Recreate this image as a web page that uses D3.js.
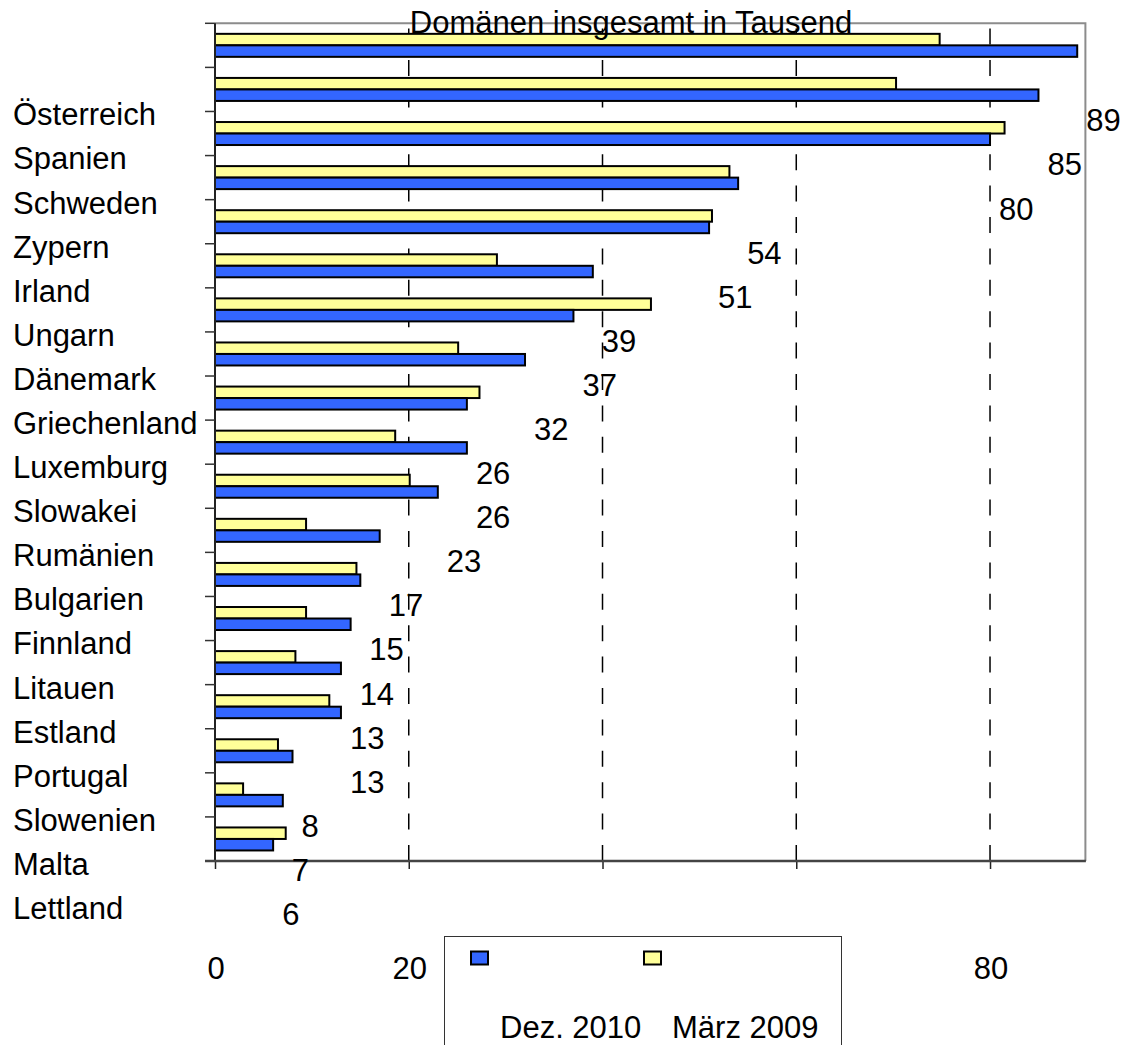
<!DOCTYPE html>
<html>
<head>
<meta charset="utf-8">
<script src="https://cdn.jsdelivr.net/npm/d3@7/dist/d3.min.js"></script>
<style>
  html, body { margin: 0; padding: 0; background: #fff; }
  svg { display: block; }
  text { font-family: "Liberation Sans", Arial, sans-serif; fill: #000; }
</style>
</head>
<body>
<svg id="chart" width="1131" height="1045"></svg>
<script>
// Countries, in the order the bars run from top to bottom
const countries = ["Österreich", "Spanien", "Schweden", "Zypern", "Irland", "Ungarn",
  "Dänemark", "Griechenland", "Luxemburg", "Slowakei", "Rumänien", "Bulgarien",
  "Finnland", "Litauen", "Estland", "Portugal", "Slowenien", "Malta", "Lettland"];

// Domains in thousands, December 2010
const dez2010 = [89, 85, 80, 54, 51, 39, 37, 32, 26, 26, 23, 17, 15, 14, 13, 13, 8, 7, 6];

// Domains in thousands, March 2009
const maerz2009 = [74.8, 70.3, 81.5, 53.1, 51.3, 29.1, 45.0, 25.1, 27.3, 18.6, 20.1,
  9.4, 14.6, 9.4, 8.3, 11.8, 6.5, 2.9, 7.3];

const seriesNames = ["Dez. 2010", "März 2009"];
const gridValues = [20, 40, 60, 80];
const axisTickValues = [0, 20, 40, 60, 80];
const axisLabelValues = [0, 20, 80];
const title = "Domänen insgesamt in Tausend";

const colors = { dez: "#3366FF", maerz: "#FFFF99" };
const fontSize = 31;

const svg = d3.select("#chart");
const plot = { left: 215, right: 1086.9, top: 23.3, bottom: 861 };

const x = d3.scaleLinear().domain([0, 90]).range([plot.left, plot.right]);
const y = d3.scaleBand().domain(countries).range([plot.top, plot.bottom]).padding(0);
const bw = y.bandwidth();
// Two bars per band: March 2009 above, December 2010 below
const sub = d3.scaleBand().domain(["maerz", "dez"]).range([0, bw])
  .paddingInner(0).paddingOuter(0.917);

const rows = countries.map((c, i) => ({ c, dez: dez2010[i], maerz: maerz2009[i] }));

// Dashed vertical gridlines, drawn from the bottom upwards
svg.append("g").selectAll("line").data(gridValues).join("line")
  .attr("x1", d => x(d)).attr("x2", d => x(d))
  .attr("y1", plot.bottom).attr("y2", plot.top)
  .attr("stroke", "#000").attr("stroke-width", 1.5)
  .attr("stroke-dasharray", "16,15.4");

// Plot frame: top and right edges in grey
svg.append("path")
  .attr("d", `M${plot.left},${plot.top}H${x.range()[1] - 1.5}V${plot.bottom}`)
  .attr("fill", "none").attr("stroke", "#8c8c8c").attr("stroke-width", 2);

// Bars
const bars = svg.append("g");
bars.selectAll("rect.maerz").data(rows).join("rect")
  .attr("class", "maerz")
  .attr("x", x(0))
  .attr("y", d => y(d.c) + sub("maerz"))
  .attr("width", d => x(d.maerz) - x(0))
  .attr("height", sub.bandwidth())
  .attr("fill", colors.maerz).attr("stroke", "#000").attr("stroke-width", 2);
bars.selectAll("rect.dez").data(rows).join("rect")
  .attr("class", "dez")
  .attr("x", x(0))
  .attr("y", d => y(d.c) + sub("dez"))
  .attr("width", d => x(d.dez) - x(0))
  .attr("height", sub.bandwidth())
  .attr("fill", colors.dez).attr("stroke", "#000").attr("stroke-width", 2);

// Left axis: spine and ticks on the band boundaries
const yAxis = svg.append("g");
yAxis.append("line")
  .attr("x1", plot.left).attr("x2", plot.left)
  .attr("y1", plot.top).attr("y2", plot.bottom)
  .attr("stroke", "#222").attr("stroke-width", 2);
yAxis.selectAll("line.tick").data(countries).join("line")
  .attr("class", "tick")
  .attr("x1", plot.left - 10).attr("x2", plot.left)
  .attr("y1", d => y(d)).attr("y2", d => y(d))
  .attr("stroke", "#333").attr("stroke-width", 1.5);

// Bottom axis
const xAxis = d3.axisBottom(x).tickValues(axisTickValues).tickSize(8).tickFormat("");
const gx = svg.append("g").attr("transform", `translate(0,${plot.bottom})`).call(xAxis);
gx.select(".domain").remove();
gx.selectAll(".tick line").attr("stroke", "#222").attr("stroke-width", 1.5);
svg.append("line")
  .attr("x1", plot.left - 10).attr("x2", x.range()[1] - 1)
  .attr("y1", plot.bottom).attr("y2", plot.bottom)
  .attr("stroke", "#444").attr("stroke-width", 2.5);

svg.append("g").selectAll("text").data(axisLabelValues).join("text")
  .attr("x", d => x(d) + 1).attr("y", 979)
  .attr("text-anchor", "middle").attr("font-size", fontSize)
  .text(d => d);

// Category labels
svg.append("g").selectAll("text").data(rows).join("text")
  .attr("x", 13)
  .attr("y", d => y(d.c) + bw / 2 + 80)
  .attr("font-size", fontSize)
  .text(d => d.c);

// Value labels for December 2010
svg.append("g").selectAll("text").data(rows).join("text")
  .attr("x", d => x(d.dez) + 9)
  .attr("y", d => y(d.c) + bw / 2 + 86)
  .attr("font-size", fontSize)
  .text(d => d3.format("d")(d.dez));

// Title
svg.append("text")
  .attr("x", 631).attr("y", 33)
  .attr("text-anchor", "middle").attr("font-size", fontSize)
  .text(title);

// Legend
const lg = svg.append("g");
lg.append("rect")
  .attr("x", 444.5).attr("y", 936.5).attr("width", 397).attr("height", 140)
  .attr("fill", "#fff").attr("stroke", "#333").attr("stroke-width", 1);
const legendItems = [
  { name: seriesNames[0], color: colors.dez, sx: 471, tx: 500 },
  { name: seriesNames[1], color: colors.maerz, sx: 644, tx: 672 }
];
lg.selectAll("rect.sw").data(legendItems).join("rect")
  .attr("class", "sw")
  .attr("x", d => d.sx).attr("y", 951.5).attr("width", 17).attr("height", 13)
  .attr("fill", d => d.color).attr("stroke", "#000").attr("stroke-width", 2);
lg.selectAll("text").data(legendItems).join("text")
  .attr("x", d => d.tx).attr("y", 1038)
  .attr("font-size", fontSize)
  .text(d => d.name);
</script>
</body>
</html>
